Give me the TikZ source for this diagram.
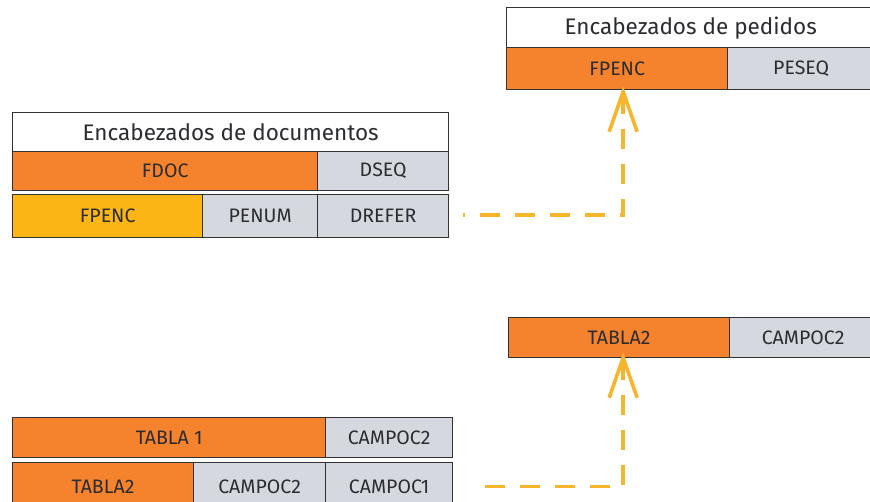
\documentclass[tikz,border=0pt]{standalone}
\usepackage{fontspec}
\setmainfont{Fira Sans}
\usepackage{xcolor}
\usepackage{tikz}
\usetikzlibrary{arrows.meta, positioning}

\definecolor{naranja}{HTML}{F5822C}
\definecolor{amarillo}{HTML}{FBB515}
\definecolor{gris}{HTML}{D5D9DF}
\definecolor{enlace}{HTML}{F7B52C}
\definecolor{texto}{HTML}{2A2C30}

\begin{document}
\begin{tikzpicture}[x=1pt, y=-1pt]
\tikzstyle{cell} = [rectangle, draw=black!80, line width=1.3pt, anchor=north west, inner sep=0pt, text=texto, font=\fontsize{19.5}{22}\selectfont]
\tikzstyle{titulo} = [cell, fill=white, font=\fontsize{22.5}{26}\selectfont]
\tikzstyle{clave} = [cell, fill=naranja]
\tikzstyle{ajena} = [cell, fill=amarillo]
\tikzstyle{campo} = [cell, fill=gris]
\tikzstyle{link} = [line width=3.6pt, enlace, dash pattern=on 20pt off 15pt, {Straight Barb[length=40pt, width=28pt, line width=3.6pt]}-]

\useasboundingbox (0,0) rectangle (870,502);

% encabezados de documentos
\node (doctitulo) [titulo, minimum width=436pt, minimum height=39pt] at (12,112) {Encabezados de documentos};
\node (fdoc) [clave, minimum width=305pt, minimum height=39pt] at (12,151) {FDOC};
\node (dseq) [campo, minimum width=131pt, minimum height=39pt] at (317,151) {DSEQ};
\node (fpencd) [ajena, minimum width=190pt, minimum height=43pt] at (12,194) {FPENC};
\node (penum) [campo, minimum width=115pt, minimum height=43pt] at (202,194) {PENUM};
\node (drefer) [campo, minimum width=131pt, minimum height=43pt] at (317,194) {DREFER};

% encabezados de pedidos
\node (pedtitulo) [titulo, minimum width=368pt, minimum height=40pt] at (506,7) {Encabezados de pedidos};
\node (fpencp) [clave, minimum width=221pt, minimum height=42pt] at (506,47) {FPENC};
\node (peseq) [campo, minimum width=147pt, minimum height=42pt] at (727,47) {PESEQ};

% tablas
\node (tabla1) [clave, minimum width=313pt, minimum height=40pt] at (12,417) {TABLA 1};
\node (campoca) [campo, minimum width=127pt, minimum height=40pt] at (325,417) {CAMPOC2};
\node (tabla2a) [clave, minimum width=181pt, minimum height=48pt] at (12,462) {TABLA2};
\node (campocb) [campo, minimum width=132pt, minimum height=48pt] at (193,462) {CAMPOC2};
\node (campoc1) [campo, minimum width=127pt, minimum height=48pt] at (325,462) {CAMPOC1};

\node (tabla2b) [clave, minimum width=221pt, minimum height=40pt] at (508,317) {TABLA2};
\node (campocc) [campo, minimum width=147pt, minimum height=40pt] at (729,317) {CAMPOC2};

\draw [link] ([xshift=6pt, yshift=4pt]fpencp.south) |- ([xshift=14pt, yshift=1pt]drefer.east);
\draw [link] ([xshift=4pt, yshift=6pt]tabla2b.south) |- ([xshift=21pt]campoc1.west -| campoc1.east);

\end{tikzpicture}
\end{document}
